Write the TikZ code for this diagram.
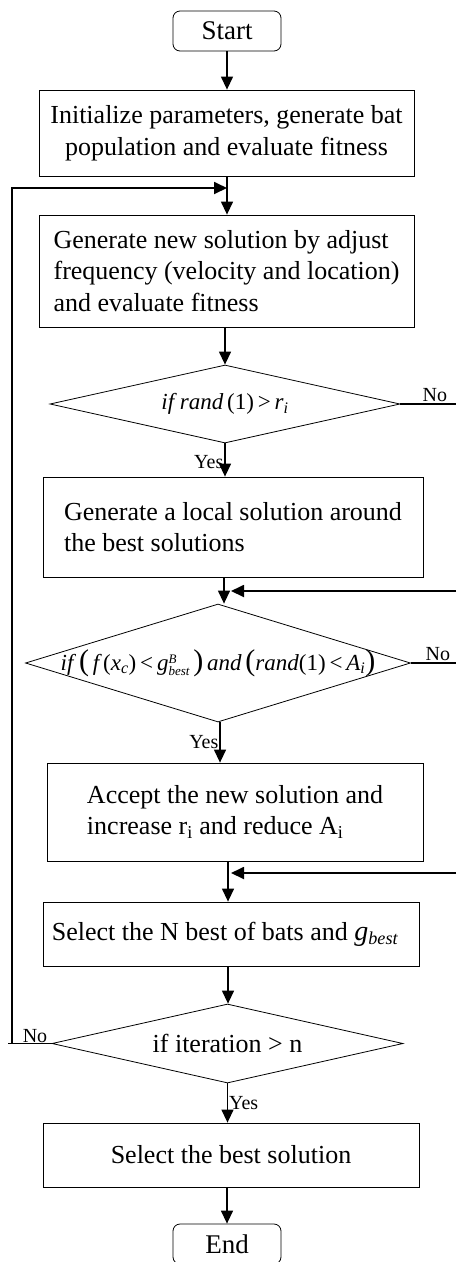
\documentclass[tikz,border=0pt]{standalone}
\usepackage{fontspec}
\setmainfont{Liberation Serif}
\usetikzlibrary{arrows.meta,shapes.geometric}
\begin{document}
\begin{tikzpicture}[x=1pt,y=-1pt,
  box/.style={draw, line width=0.8pt, inner sep=0pt, align=left, font=\fontsize{26}{31.5}\selectfont},
  term/.style={draw, line width=0.8pt, rounded corners=7pt, minimum width=108pt, minimum height=40pt, inner sep=0pt, font=\fontsize{27}{30}\selectfont},
  dec/.style={draw, shape=diamond, line width=0.8pt, inner sep=0pt, font=\fontsize{23}{28}\selectfont},
  arr/.style={-{Triangle[length=13pt,width=12pt]}, line width=1.3pt},
  back/.style={line width=1.8pt},
  lab/.style={font=\fontsize{20}{22}\selectfont, inner sep=1pt}]
\useasboundingbox (0,0) rectangle (456,1262);

\node[term] (start) at (227,31) {Start};
\node[box, minimum width=375pt, minimum height=86pt, align=center] (init) at (226.5,133)
  {Initialize parameters, generate bat\\population and evaluate fitness};
\node[box, minimum width=375pt, minimum height=112pt] (gen) at (226.5,271)
  {Generate new solution by adjust\\frequency (velocity and location)\\and evaluate fitness};
\node[dec, minimum width=350pt, minimum height=78pt] (d1) at (225,404)
  {\makebox[0pt]{\itshape if rand\,\upshape(1)\,>\,\itshape r\textsubscript{i}}};
\node[box, minimum width=380pt, minimum height=100pt] (loc) at (233,527)
  {Generate a local solution around\\the best solutions};
\node[dec, minimum width=385pt, minimum height=118pt] (d2) at (218,663)
  {\makebox[0pt]{\itshape if {\upshape\fontsize{30}{30}\selectfont(}\,f\,\upshape(\itshape x\textsubscript{c}\upshape)\,<\,\itshape g\raisebox{-5pt}{\fontsize{13}{14}\selectfont\shortstack[l]{B\\best}}\,{\upshape\fontsize{30}{30}\selectfont)}\,and\,{\upshape\fontsize{30}{30}\selectfont(}rand\upshape(1)\,<\,\itshape A\textsubscript{i}{\upshape\fontsize{30}{30}\selectfont)}}};
\node[box, minimum width=376pt, minimum height=98pt] (acc) at (235,812)
  {Accept the new solution and\\increase r\textsubscript{i} and reduce A\textsubscript{i}};
\node[box, minimum width=376pt, minimum height=64pt] (sel) at (231,934)
  {\hspace*{-12pt}Select the N best of bats and {\itshape\fontsize{28}{28}\selectfont g}\textsubscript{\itshape best}};
\node[dec, minimum width=351pt, minimum height=79pt, font=\fontsize{26}{28}\selectfont] (d3) at (227.5,1043.5)
  {\makebox[0pt]{if iteration > n}};
\node[box, minimum width=376pt, minimum height=64pt] (best) at (231,1155)
  {Select the best solution};
\node[term] (end) at (227,1244) {End};

% coordinates
\coordinate (loopin) at (227,188);
\coordinate (loopl) at (12,188);
\coordinate (loopb) at (12,1043.5);
\coordinate (r1) at (456,404);
\coordinate (r2) at (456,591);
\coordinate (m2) at (231,591);
\coordinate (r3) at (456,663);
\coordinate (r4) at (456,873);
\coordinate (m4) at (231,873);

% main flow
\draw[arr] (start.south) -- (init.north -| start.south);
\draw[arr] (init.south -| start.south) -- (gen.north -| start.south);
\draw[arr] (gen.south -| d1.north) -- (d1.north);
\draw[arr] (d1.south) -- (loc.north -| d1.south) node[lab, pos=0.55, left] {Yes};
\draw[arr] (loc.south -| 224,0) -- (d2.north -| 224,0);
\draw[arr] (d2.south -| 220,0) -- (acc.north -| 220,0) node[lab, pos=0.5, left] {Yes};
\draw[arr] (acc.south -| 228,0) -- (sel.north -| 228,0);
\draw[arr] (sel.south -| 228,0) -- (d3.north -| 228,0);
\draw[arr] (d3.south) -- (best.north -| d3.south) node[lab, pos=0.5, right] {Yes};
\draw[arr] (best.south -| end.north) -- (end.north);

% back edges
\draw[back] (d1.east) -- (r1) node[lab, pos=0.62, above] {No};
\draw[arr, line width=1.8pt] (r2) -- (m2);
\draw[back] (d2.east) -- (r3) node[lab, pos=0.6, above] {No};
\draw[arr, line width=1.8pt] (r4) -- (m4);
\draw[back] (d3.west) -- (8,1043.5);
\node[lab, above] at (35,1043.5) {No};
\draw[arr, line width=1.8pt] (loopb) -- (loopl) -- (loopin);
\end{tikzpicture}
\end{document}
